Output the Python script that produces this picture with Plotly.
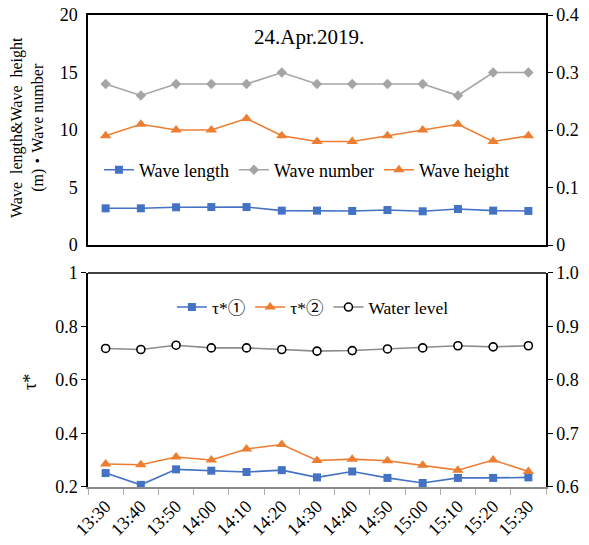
import plotly.graph_objects as go

# Observation times (10-minute intervals)
times = ["13:30", "13:40", "13:50", "14:00", "14:10", "14:20", "14:30",
         "14:40", "14:50", "15:00", "15:10", "15:20", "15:30"]

# Upper panel: wave properties
wave_length = [3.19, 3.19, 3.28, 3.30, 3.30, 2.99, 2.99, 2.96, 3.04, 2.93, 3.13, 2.99, 2.96]
wave_number = [14, 13, 14, 14, 14, 15, 14, 14, 14, 14, 13, 15, 15]
wave_height = [0.19, 0.21, 0.20, 0.20, 0.22, 0.19, 0.18, 0.18, 0.19, 0.20, 0.21, 0.18, 0.19]

# Lower panel: Shields numbers and water level
tau1 = [0.252, 0.208, 0.266, 0.261, 0.256, 0.263, 0.236, 0.258, 0.234, 0.215, 0.234, 0.234, 0.236]
tau2 = [0.286, 0.283, 0.312, 0.301, 0.342, 0.359, 0.299, 0.304, 0.298, 0.281, 0.263, 0.301, 0.258]
water_level = [0.859, 0.857, 0.865, 0.860, 0.860, 0.857, 0.854, 0.855, 0.858, 0.860, 0.864, 0.862, 0.864]

BLUE = "#4472C4"
ORANGE = "#ED7D31"
GRAY = "#A5A5A5"
SERIF = "Liberation Serif"
FONT = "Liberation Serif, Noto Sans CJK JP"

fig = go.Figure()

fig.add_trace(go.Scatter(
    x=times, y=wave_length, name="Wave length", xaxis="x", yaxis="y",
    mode="lines+markers", line=dict(color=BLUE, width=1.6),
    marker=dict(symbol="square", size=8, color=BLUE), legend="legend", cliponaxis=False))
fig.add_trace(go.Scatter(
    x=times, y=wave_number, name="Wave number", xaxis="x", yaxis="y",
    mode="lines+markers", line=dict(color=GRAY, width=1.6),
    marker=dict(symbol="diamond", size=8, color=GRAY), legend="legend", cliponaxis=False))
fig.add_trace(go.Scatter(
    x=times, y=wave_height, name="Wave height", xaxis="x", yaxis="y2",
    mode="lines+markers", line=dict(color=ORANGE, width=1.6),
    marker=dict(symbol="triangle-up", size=10, color=ORANGE), legend="legend", cliponaxis=False))

fig.add_trace(go.Scatter(
    x=times, y=tau1, name="τ*①", xaxis="x2", yaxis="y3",
    mode="lines+markers", line=dict(color=BLUE, width=1.6),
    marker=dict(symbol="square", size=8, color=BLUE), legend="legend2", cliponaxis=False))
fig.add_trace(go.Scatter(
    x=times, y=tau2, name="τ*②", xaxis="x2", yaxis="y3",
    mode="lines+markers", line=dict(color=ORANGE, width=1.6),
    marker=dict(symbol="triangle-up", size=10, color=ORANGE), legend="legend2", cliponaxis=False))
fig.add_trace(go.Scatter(
    x=times, y=water_level, name="Water level", xaxis="x2", yaxis="y4",
    mode="lines+markers", line=dict(color="#8C8C8C", width=1.6),
    marker=dict(symbol="circle", size=8, color="white", line=dict(color="black", width=1.6)),
    legend="legend2", cliponaxis=False))

top_dom = [0.5127, 1.0]
bot_dom = [0.0, 0.4534]
tickfont = dict(family=SERIF, size=18, color="black")
axis_line = dict(showline=True, linecolor="black", linewidth=1.5, showgrid=False, zeroline=False)

fig.update_layout(
    width=589, height=545,
    margin=dict(l=88, r=43, t=15, b=58),
    paper_bgcolor="white", plot_bgcolor="white",
    font=dict(family=FONT, color="black"),
    showlegend=True,
    xaxis=dict(domain=[0, 1], anchor="y", type="category", range=[-0.5, 12.5],
               showticklabels=False, ticks="", mirror=True, **axis_line),
    yaxis=dict(domain=top_dom, anchor="x", range=[0, 20], dtick=5,
               ticks="outside", ticklen=5, tickcolor="rgba(0,0,0,0)",
               tickfont=tickfont, automargin=False, **axis_line),
    yaxis2=dict(overlaying="y", side="right", anchor="x", range=[0, 0.4], dtick=0.1,
                ticks="outside", ticklen=5, tickcolor="black",
                tickfont=tickfont, automargin=False, **axis_line),
    xaxis2=dict(domain=[0, 1], anchor="y3", type="category", range=[-0.5, 12.5],
                ticks="outside", tickson="boundaries", ticklen=6, tickcolor="#B0B0B0",
                tickangle=-45, tickfont=dict(family=SERIF, size=18, color="black"),
                showline=True, linecolor="#8C8C8C", linewidth=1.5,
                showgrid=False, zeroline=False, automargin=False),
    yaxis3=dict(domain=bot_dom, anchor="x2", range=[0.2, 1.0], dtick=0.2,
                ticks="outside", ticklen=5, tickcolor="black",
                tickfont=tickfont, automargin=False, **axis_line),
    yaxis4=dict(overlaying="y3", side="right", anchor="x2", range=[0.6, 1.0], dtick=0.1,
                tickformat=".1f", ticks="outside", ticklen=5, tickcolor="black",
                tickfont=tickfont, automargin=False, **axis_line),
    legend=dict(orientation="h", x=0.478, xanchor="center", y=0.6716, yanchor="middle",
                bgcolor="rgba(0,0,0,0)", font=dict(family=FONT, size=18, color="black"),
                itemwidth=30, tracegroupgap=0),
    legend2=dict(orientation="h", x=0.491, xanchor="center", y=0.381, yanchor="middle",
                 bgcolor="rgba(0,0,0,0)", font=dict(family=FONT, size=17.5, color="black"),
                 itemwidth=30, tracegroupgap=0),
    shapes=[dict(type="line", xref="x2 domain", yref="y3 domain",
                 x0=0, x1=1, y0=1, y1=1, line=dict(color="black", width=1.5))],
    annotations=[
        dict(text="24.Apr.2019.", xref="paper", yref="paper", x=0.4825, y=0.953,
             xanchor="center", yanchor="middle", showarrow=False,
             font=dict(family=SERIF, size=21, color="black")),
        dict(text="Wave\u00a0\u00a0length&Wave\u00a0\u00a0height<br>(m)・Wave number",
             xref="paper", yref="paper",
             x=-0.131, y=0.7606, xanchor="center", yanchor="middle", textangle=-90,
             showarrow=False, font=dict(family=FONT, size=16, color="black")),
        dict(text="τ*", xref="paper", yref="paper", x=-0.1266, y=0.2225,
             xanchor="center", yanchor="middle", textangle=-90, showarrow=False,
             font=dict(family=SERIF, size=18, color="black")),
    ],
)

fig.write_html("out.html")
